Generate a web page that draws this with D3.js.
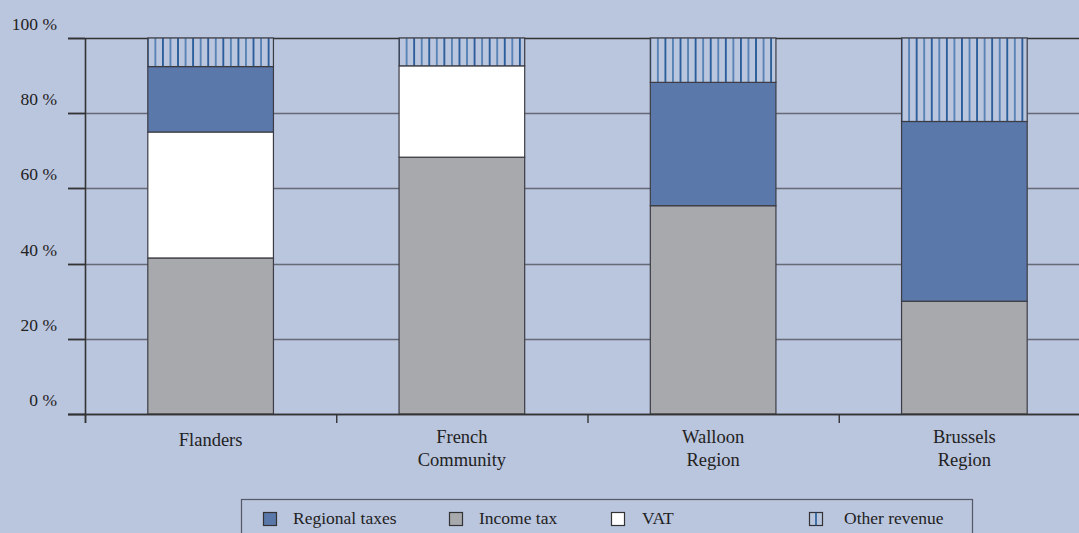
<!DOCTYPE html>
<html>
<head>
<meta charset="utf-8">
<script src="https://cdn.jsdelivr.net/npm/d3@7"></script>
<style>
  html, body { margin: 0; padding: 0; background: #bac5de; }
  svg { display: block; }
  text { font-family: "Liberation Serif", "Times New Roman", serif; fill: #222; }
</style>
</head>
<body>
<svg id="chart" width="1079" height="533"></svg>
<script>
// ---- data ----
const categories = ["Flanders", "French\nCommunity", "Walloon\nRegion", "Brussels\nRegion"];
const seriesNames = ["Income tax", "VAT", "Regional taxes", "Other revenue"];
const incomeTax     = [41.5, 68.3, 55.4, 30.0];
const vat           = [33.5, 24.3, 0.0, 0.0];
const regionalTaxes = [17.4, 0.0, 32.8, 47.8];
const otherRevenue  = [7.6, 7.4, 11.8, 22.2];
const yTicks = [0, 20, 40, 60, 80, 100];
const legendOrder = ["Regional taxes", "Income tax", "VAT", "Other revenue"];

// ---- layout ----
const W = 1079, H = 533;
const plot = { left: 85, right: 1090, top: 38, bottom: 414 };
const colors = {
  "Income tax": "#a8a9ad",
  "VAT": "#ffffff",
  "Regional taxes": "#5a78aa",
  "Other revenue": "url(#hatch)"
};

const svg = d3.select("#chart");
svg.append("rect").attr("width", W).attr("height", H).attr("fill", "#bac5de");

const x = d3.scaleBand().domain(categories).range([plot.left, plot.right]).padding(0);
const y = d3.scaleLinear().domain([0, 100]).range([plot.bottom, plot.top]);
const barW = x.bandwidth() * 0.5;

const rows = categories.map((c, i) => ({
  cat: c,
  "Income tax": incomeTax[i],
  "VAT": vat[i],
  "Regional taxes": regionalTaxes[i],
  "Other revenue": otherRevenue[i]
}));
const stacked = d3.stack().keys(seriesNames)(rows);

// hatch patterns (one per bar so lines start at the bar's left edge)
const defs = svg.append("defs");
const hatchStep = 7.55;
categories.forEach((c, i) => {
  const bx = x(c) + (x.bandwidth() - barW) / 2;
  const p = defs.append("pattern")
    .attr("id", "hatch" + i)
    .attr("patternUnits", "userSpaceOnUse")
    .attr("x", bx).attr("y", 0)
    .attr("width", hatchStep * 2).attr("height", 10);
  p.append("rect").attr("width", hatchStep * 2).attr("height", 10).attr("fill", "#bac5de");
  p.append("line").attr("x1", hatchStep).attr("x2", hatchStep).attr("y1", 0).attr("y2", 10)
    .attr("stroke", "#3f72ab").attr("stroke-width", 1.5);
  p.append("line").attr("x1", hatchStep * 2).attr("x2", hatchStep * 2).attr("y1", 0).attr("y2", 10)
    .attr("stroke", "#07448a").attr("stroke-width", 1.5);
  p.append("line").attr("x1", 0).attr("x2", 0).attr("y1", 0).attr("y2", 10)
    .attr("stroke", "#07448a").attr("stroke-width", 1.5);
});

// gridlines
const grid = svg.append("g");
grid.selectAll("line").data(yTicks).join("line")
  .attr("x1", plot.left - 17).attr("x2", W)
  .attr("y1", d => Math.round(y(d)) + 0.5).attr("y2", d => Math.round(y(d)) + 0.5)
  .attr("stroke", d => (d === 0 || d === 100) ? "#333" : "#666a75")
  .attr("stroke-width", 1.6);

// y axis ticks (dark part left of axis)
svg.append("g").selectAll("line").data(yTicks).join("line")
  .attr("x1", plot.left - 17).attr("x2", plot.left)
  .attr("y1", d => Math.round(y(d)) + 0.5).attr("y2", d => Math.round(y(d)) + 0.5)
  .attr("stroke", "#333").attr("stroke-width", 1.6);

// y labels
svg.append("g").selectAll("text").data(yTicks).join("text")
  .attr("x", 57).attr("y", d => y(d) - 8)
  .attr("text-anchor", "end")
  .attr("font-size", 17.5)
  .text(d => d + " %");

// bars
svg.append("g").selectAll("g").data(stacked).join("g")
  .each(function(layer) {
    d3.select(this).selectAll("rect").data(layer.filter(d => d[1] - d[0] > 0)).join("rect")
      .attr("x", d => x(d.data.cat) + (x.bandwidth() - barW) / 2)
      .attr("width", barW)
      .attr("y", d => y(d[1]))
      .attr("height", d => y(d[0]) - y(d[1]))
      .attr("fill", d => layer.key === "Other revenue"
        ? "url(#hatch" + categories.indexOf(d.data.cat) + ")"
        : colors[layer.key])
      .attr("stroke", "#3c3c44")
      .attr("stroke-width", 1.2);
  });

// y axis line
svg.append("line")
  .attr("x1", plot.left + 0.5).attr("x2", plot.left + 0.5)
  .attr("y1", plot.top).attr("y2", plot.bottom + 9)
  .attr("stroke", "#333").attr("stroke-width", 1.6);

// x axis line & ticks
svg.append("line").attr("x1", plot.left - 17).attr("x2", W)
  .attr("y1", Math.round(y(0)) + 0.5).attr("y2", Math.round(y(0)) + 0.5)
  .attr("stroke", "#333").attr("stroke-width", 1.6);
svg.append("g").selectAll("line").data(categories).join("line")
  .attr("x1", d => x(d) + 0.5).attr("x2", d => x(d) + 0.5)
  .attr("y1", y(0)).attr("y2", y(0) + 9)
  .attr("stroke", "#333").attr("stroke-width", 1.4);

// category labels
svg.append("g").selectAll("text").data(categories).join("text")
  .attr("text-anchor", "middle")
  .attr("font-size", 18.5)
  .each(function(d) {
    const lines = d.split("\n");
    const t = d3.select(this);
    lines.forEach((ln, k) => {
      t.append("tspan")
        .attr("x", x(d) + x.bandwidth() / 2)
        .attr("y", (lines.length === 1 ? 446 : 443) + k * 22.5)
        .text(ln);
    });
  });

// legend
const legendX = [263, 449, 611, 809];
const legendTextX = [293, 479, 642, 844];
const lg = svg.append("g");
lg.append("rect").attr("x", 241.5).attr("y", 499.5).attr("width", 731).attr("height", 60)
  .attr("fill", "none").attr("stroke", "#555a66").attr("stroke-width", 1.2);
legendOrder.forEach((name, i) => {
  lg.append("rect")
    .attr("x", legendX[i] + 0.5).attr("y", 512.5).attr("width", 13).attr("height", 13)
    .attr("fill", name === "Other revenue" ? "#bac5de" : colors[name])
    .attr("stroke", "#333").attr("stroke-width", 1.2);
  if (name === "Other revenue") {
    lg.append("line").attr("x1", legendX[i] + 7).attr("x2", legendX[i] + 7)
      .attr("y1", 512.5).attr("y2", 525.5).attr("stroke", "#0c4b8e").attr("stroke-width", 1.4);
  }
  lg.append("text")
    .attr("x", legendTextX[i]).attr("y", 523.5)
    .attr("font-size", 17.5)
    .text(name);
});
</script>
</body>
</html>
